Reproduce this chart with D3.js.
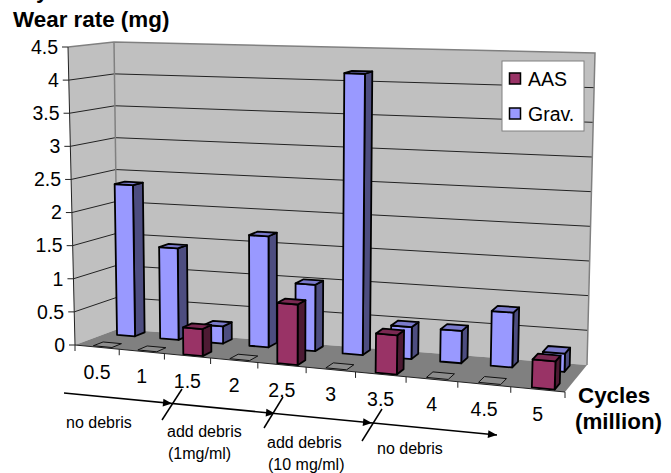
<!DOCTYPE html>
<html>
<head>
<meta charset="utf-8">
<script src="https://cdn.jsdelivr.net/npm/d3@7"></script>
<style>
  html, body { margin: 0; padding: 0; background: #fff; }
  text { font-family: "Liberation Sans", Arial, sans-serif; fill: #000; }
</style>
</head>
<body>
<svg id="chart" width="671" height="473"></svg>
<script>
const categories = ["0.5", "1", "1.5", "2", "2.5", "3", "3.5", "4", "4.5", "5"];
const seriesNames = ["AAS", "Grav."];
const aasValues = [0, 0, 0.4, 0, 0.88, 0, 0.56, 0, 0, 0.39];
const gravValues = [2.33, 1.4, 0.26, 1.67, 0.99, 4.16, 0.47, 0.47, 0.79, 0.26];
const yTicks = [0, 0.5, 1, 1.5, 2, 2.5, 3, 3.5, 4, 4.5];
const yTickLabels = ["0", "0.5", "1", "1.5", "2", "2.5", "3", "3.5", "4", "4.5"];

const fills = {
    "AAS": { front: "#993366", side: "#4d1a33", top: "#7a2952" },
    "Grav.": { front: "#9999ff", side: "#4d4d80", top: "#7a7acc" }
};

const svg = d3.select("#chart");

// corners of the chart box on screen: [front/back][left/right][floor/top]
const box = {
    fl0: [75, 345], fr0: [565, 392], bl0: [118, 329], br0: [587, 365],
    fl1: [68, 47], fr1: [575, 66], bl1: [114, 42], br1: [595, 53]
};

// scales give box fractions, project() turns them into pixels
const xBand = d3.scaleBand().domain(categories).range([0, 1]);
const yScale = d3.scaleLinear().domain([0, 4.5]).range([0, 1]);
const zScale = d3.scaleOrdinal().domain(seriesNames).range([0.05, 0.7]);
const barWidth = 0.42;   // of a category band
const barOffset = { "AAS": 0.37, "Grav.": 0.28 };
const barDepth = 0.23;

// the far end of the x axis is stretched a bit by the perspective
function warp(u) {
    const k = 1.12;
    return u / (u + k * (1 - u));
}

function project(u, v, w) {
    const t = warp(u);
    const mix = (a, b, f) => [a[0] + (b[0] - a[0]) * f, a[1] + (b[1] - a[1]) * f];
    const floor = mix(mix(box.fl0, box.fr0, t), mix(box.bl0, box.br0, t), v);
    const top = mix(mix(box.fl1, box.fr1, t), mix(box.bl1, box.br1, t), v);
    return mix(floor, top, w);
}

const polygon = points => "M" + points.map(p => p.join(",")).join("L") + "Z";

// walls and floor
svg.append("path")
    .attr("d", polygon([project(0, 0, 0), project(0, 1, 0), project(0, 1, 1), project(0, 0, 1)]))
    .attr("fill", "#c0c0c0");
svg.append("path")
    .attr("d", polygon([project(0, 1, 0), project(1, 1, 0), project(1, 1, 1), project(0, 1, 1)]))
    .attr("fill", "#c0c0c0");
svg.append("path")
    .attr("d", polygon([project(0, 0, 0), project(1, 0, 0), project(1, 1, 0), project(0, 1, 0)]))
    .attr("fill", "#808080");

// gridlines
yTicks.slice(1, -1).forEach(tick => {
    const w = yScale(tick);
    svg.append("path")
        .attr("d", d3.line()([project(0, 0, w), project(0, 1, w), project(1, 1, w)]))
        .attr("fill", "none")
        .attr("stroke", "#222")
        .attr("stroke-width", 1);
});

// wall edges
svg.append("path")
    .attr("d", d3.line()([project(0, 0, 1), project(0, 1, 1), project(1, 1, 1), project(1, 1, 0)]))
    .attr("fill", "none")
    .attr("stroke", "#808080")
    .attr("stroke-width", 1.5);
svg.append("path")
    .attr("d", d3.line()([project(0, 1, 1), project(0, 1, 0)]))
    .attr("fill", "none")
    .attr("stroke", "#808080")
    .attr("stroke-width", 1.5);

// bars, back row first, left to right
function drawBars(name, values) {
    const g = svg.append("g").attr("class", "series");
    const color = fills[name];
    values.forEach((value, i) => {
        const bandStep = xBand.bandwidth();
        const u0 = xBand(categories[i]) + bandStep * barOffset[name];
        const u1 = u0 + bandStep * barWidth;
        const v0 = zScale(name);
        const v1 = v0 + barDepth;
        const w = yScale(value);
        const faces = [];
        if (value > 0) {
            faces.push({ fill: color.side, pts: [project(u1, v0, 0), project(u1, v1, 0), project(u1, v1, w), project(u1, v0, w)] });
            faces.push({ fill: color.front, pts: [project(u0, v0, 0), project(u1, v0, 0), project(u1, v0, w), project(u0, v0, w)] });
        }
        faces.push({
            fill: value > 0 ? color.top : "#8c8c8c",
            pts: [project(u0, v0, w), project(u1, v0, w), project(u1, v1, w), project(u0, v1, w)]
        });
        g.selectAll(null)
            .data(faces)
            .enter().append("path")
            .attr("d", d => polygon(d.pts))
            .attr("fill", d => d.fill)
            .attr("stroke", value > 0 ? "#000" : "#111")
            .attr("stroke-width", value > 0 ? 1.8 : 1)
            .attr("stroke-linejoin", "round");
    });
}
drawBars("Grav.", gravValues);
drawBars("AAS", aasValues);

// value axis
svg.append("path")
    .attr("d", d3.line()([project(0, 0, 0), project(0, 0, 1)]))
    .attr("stroke", "#222")
    .attr("stroke-width", 1);
yTicks.forEach((tick, i) => {
    const p = project(0, 0, yScale(tick));
    svg.append("line")
        .attr("x1", p[0] - 6).attr("x2", p[0])
        .attr("y1", p[1]).attr("y2", p[1])
        .attr("stroke", "#222");
    svg.append("text")
        .attr("x", p[0] - 10)
        .attr("y", p[1])
        .attr("dy", "0.35em")
        .attr("text-anchor", "end")
        .style("font-size", "19.5px")
        .text(yTickLabels[i]);
});

// category axis along the front edge of the floor
svg.append("path")
    .attr("d", d3.line()([project(0, 0, 0), project(1, 0, 0)]))
    .attr("stroke", "#222")
    .attr("stroke-width", 1);
d3.range(categories.length + 1).forEach(i => {
    const p = project(i / categories.length, 0, 0);
    svg.append("line")
        .attr("x1", p[0]).attr("x2", p[0])
        .attr("y1", p[1]).attr("y2", p[1] + 6)
        .attr("stroke", "#222");
});
categories.forEach(c => {
    const p = project(xBand(c) + xBand.bandwidth() / 2, 0, 0);
    svg.append("text")
        .attr("x", p[0])
        .attr("y", p[1] + 25)
        .attr("dy", "0.35em")
        .attr("text-anchor", "middle")
        .style("font-size", "19.5px")
        .text(c);
});

// legend
const legend = svg.append("g").attr("transform", "translate(502,61)");
legend.append("rect")
    .attr("width", 82).attr("height", 70)
    .attr("fill", "#fff")
    .attr("stroke", "#808080")
    .attr("stroke-width", 1);
seriesNames.forEach((name, i) => {
    const y = 18 + i * 35;
    legend.append("rect")
        .attr("x", 7.5).attr("y", y - 6)
        .attr("width", 11).attr("height", 11)
        .attr("fill", fills[name].front)
        .attr("stroke", "#000")
        .attr("stroke-width", 1.5);
    legend.append("text")
        .attr("x", 26).attr("y", y)
        .attr("dy", "0.35em")
        .style("font-size", "19.5px")
        .text(name);
});

// axis titles
const titles = [
    { text: "y", x: 36, y: -2 },
    { text: "Wear rate (mg)", x: 13, y: 27 },
    { text: "Cycles", x: 578, y: 403 },
    { text: "(million)", x: 575, y: 429 }
];
svg.selectAll(".title")
    .data(titles)
    .enter().append("text")
    .attr("class", "title")
    .attr("x", d => d.x)
    .attr("y", d => d.y)
    .style("font-size", "22.4px")
    .style("font-weight", "bold")
    .text(d => d.text);

// debris annotations drawn over the chart
const notes = [
    { text: "no debris", x: 66, y: 428 },
    { text: "add debris", x: 167, y: 437 },
    { text: "(1mg/ml)", x: 168, y: 459 },
    { text: "add debris", x: 267, y: 448 },
    { text: "(10 mg/ml)", x: 268, y: 470 },
    { text: "no debris", x: 377, y: 454 }
];
svg.selectAll(".note")
    .data(notes)
    .enter().append("text")
    .attr("class", "note")
    .attr("x", d => d.x)
    .attr("y", d => d.y)
    .style("font-size", "16px")
    .text(d => d.text);

const arrowLine = [[64, 393], [497, 435]];
const arrowTips = [[172, 403.5], [275, 413.5], [372, 423], [497, 435]];
const slashes = [
    [[182, 389], [162, 420]],
    [[283, 397], [264, 428]],
    [[382, 409], [362, 441]]
];
svg.append("path")
    .attr("d", d3.line()(arrowLine))
    .attr("stroke", "#000")
    .attr("stroke-width", 1.5);
arrowTips.forEach(tip => {
    svg.append("path")
        .attr("d", "M0,0L-9,-4L-9,4Z")
        .attr("transform", `translate(${tip[0]},${tip[1]}) rotate(5.5)`)
        .attr("fill", "#000");
});
slashes.forEach(s => {
    svg.append("path")
        .attr("d", d3.line()(s))
        .attr("stroke", "#000")
        .attr("stroke-width", 1.5);
});
</script>
</body>
</html>
